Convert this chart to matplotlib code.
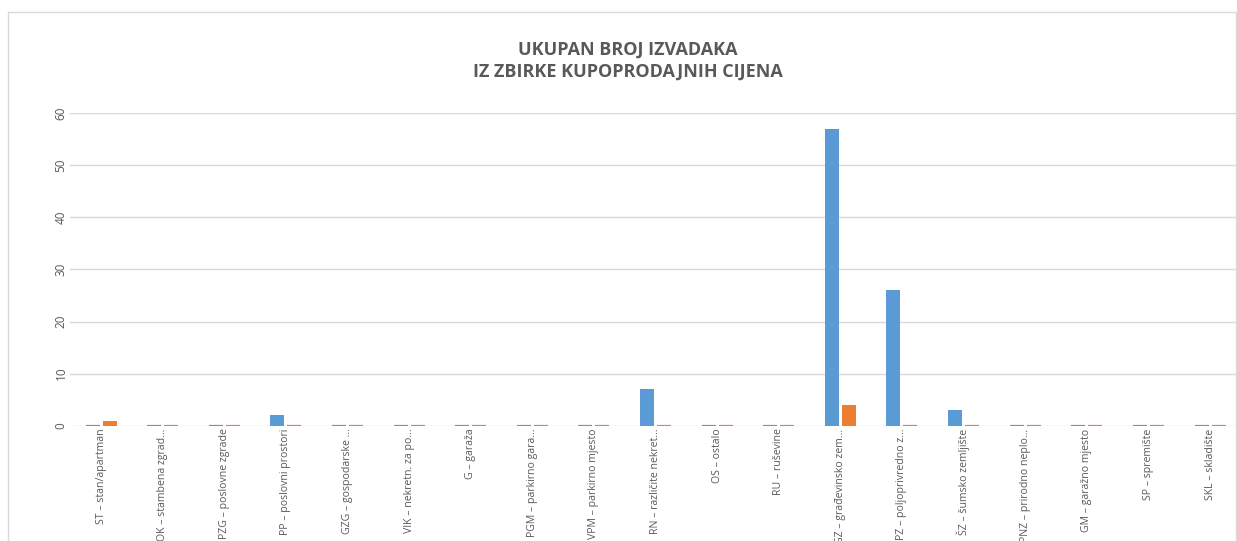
import numpy as np
import matplotlib
matplotlib.use("Agg")
from matplotlib import pyplot as plt
from matplotlib.patches import Rectangle

plt.rcParams["font.family"] = ["Open Sans", "DejaVu Sans"]

# DATA
categories = [
    "ST – stan/apartman", "OK – stambena zgrad…", "PZG – poslovne zgrade",
    "PP – poslovni prostori", "GZG – gospodarske …", "VIK – nekretn. za po…",
    "G – garaža", "PGM – parkirno gara…", "VPM – parkirno mjesto",
    "RN – različite nekret…", "OS – ostalo", "RU – ruševine",
    "GZ – građevinsko zem…", "PZ – poljoprivredno z…", "ŠZ – šumsko zemljište",
    "PNZ – prirodno neplo…", "GM – garažno mjesto", "SP – spremište",
    "SKL – skladište",
]
series_a = [0, 0, 0, 2, 0, 0, 0, 0, 0, 7, 0, 0, 57, 26, 3, 0, 0, 0, 0]
series_b = [1, 0, 0, 0, 0, 0, 0, 0, 0, 0, 0, 0, 4, 0, 0, 0, 0, 0, 0]

BLUE = "#5B9BD5"
ORANGE = "#ED7D31"
GRID = "#D9D9D9"
TEXT = "#595959"

fig = plt.figure(figsize=(12.37, 5.41), dpi=100)
ax = fig.add_axes([0.0568, 0.2131, 0.9463, 0.5775])

x = np.arange(len(categories))
w = 0.227
off = 0.138
# zero counts are shown as a thin line on the baseline (edge only)
lw_a = [1.6 if v == 0 else 0 for v in series_a]
lw_b = [1.6 if v == 0 else 0 for v in series_b]
ax.bar(x - off, series_a, w, color=BLUE, edgecolor=BLUE, linewidth=lw_a, zorder=3)
ax.bar(x + off, series_b, w, color=ORANGE, edgecolor=ORANGE, linewidth=lw_b, zorder=3)

ax.set_xlim(-0.5, len(categories) - 0.5)
ax.set_ylim(0, 60)
ax.set_yticks(range(0, 61, 10))
ax.yaxis.grid(True, color=GRID, linewidth=1.0, zorder=0)
ax.set_axisbelow(True)
for s in ax.spines.values():
    s.set_visible(False)
ax.tick_params(length=0)
ax.tick_params(axis="y", labelsize=8.5, labelcolor=TEXT, pad=2)
for lab in ax.get_yticklabels():
    lab.set_rotation(90)
    lab.set_va("center")

ax.set_xticks(x)
ax.set_xticklabels(categories, rotation=90, fontsize=7.6, color=TEXT,
                   ha="center", va="top")
ax.tick_params(axis="x", pad=2)

fig.text(0.5075, 0.888, "UKUPAN BROJ IZVADAKA\nIZ ZBIRKE KUPOPRODAJNIH CIJENA",
         ha="center", va="center", fontsize=13, fontweight="bold",
         color=TEXT, linespacing=1.3)

# chart area border
fig.patches.append(Rectangle((8 / 1237, -0.1), 1228 / 1237, 1 - 12 / 541 + 0.1,
                             transform=fig.transFigure, fill=False,
                             edgecolor=GRID, linewidth=1.0))

fig.savefig("out.png", dpi=100)
